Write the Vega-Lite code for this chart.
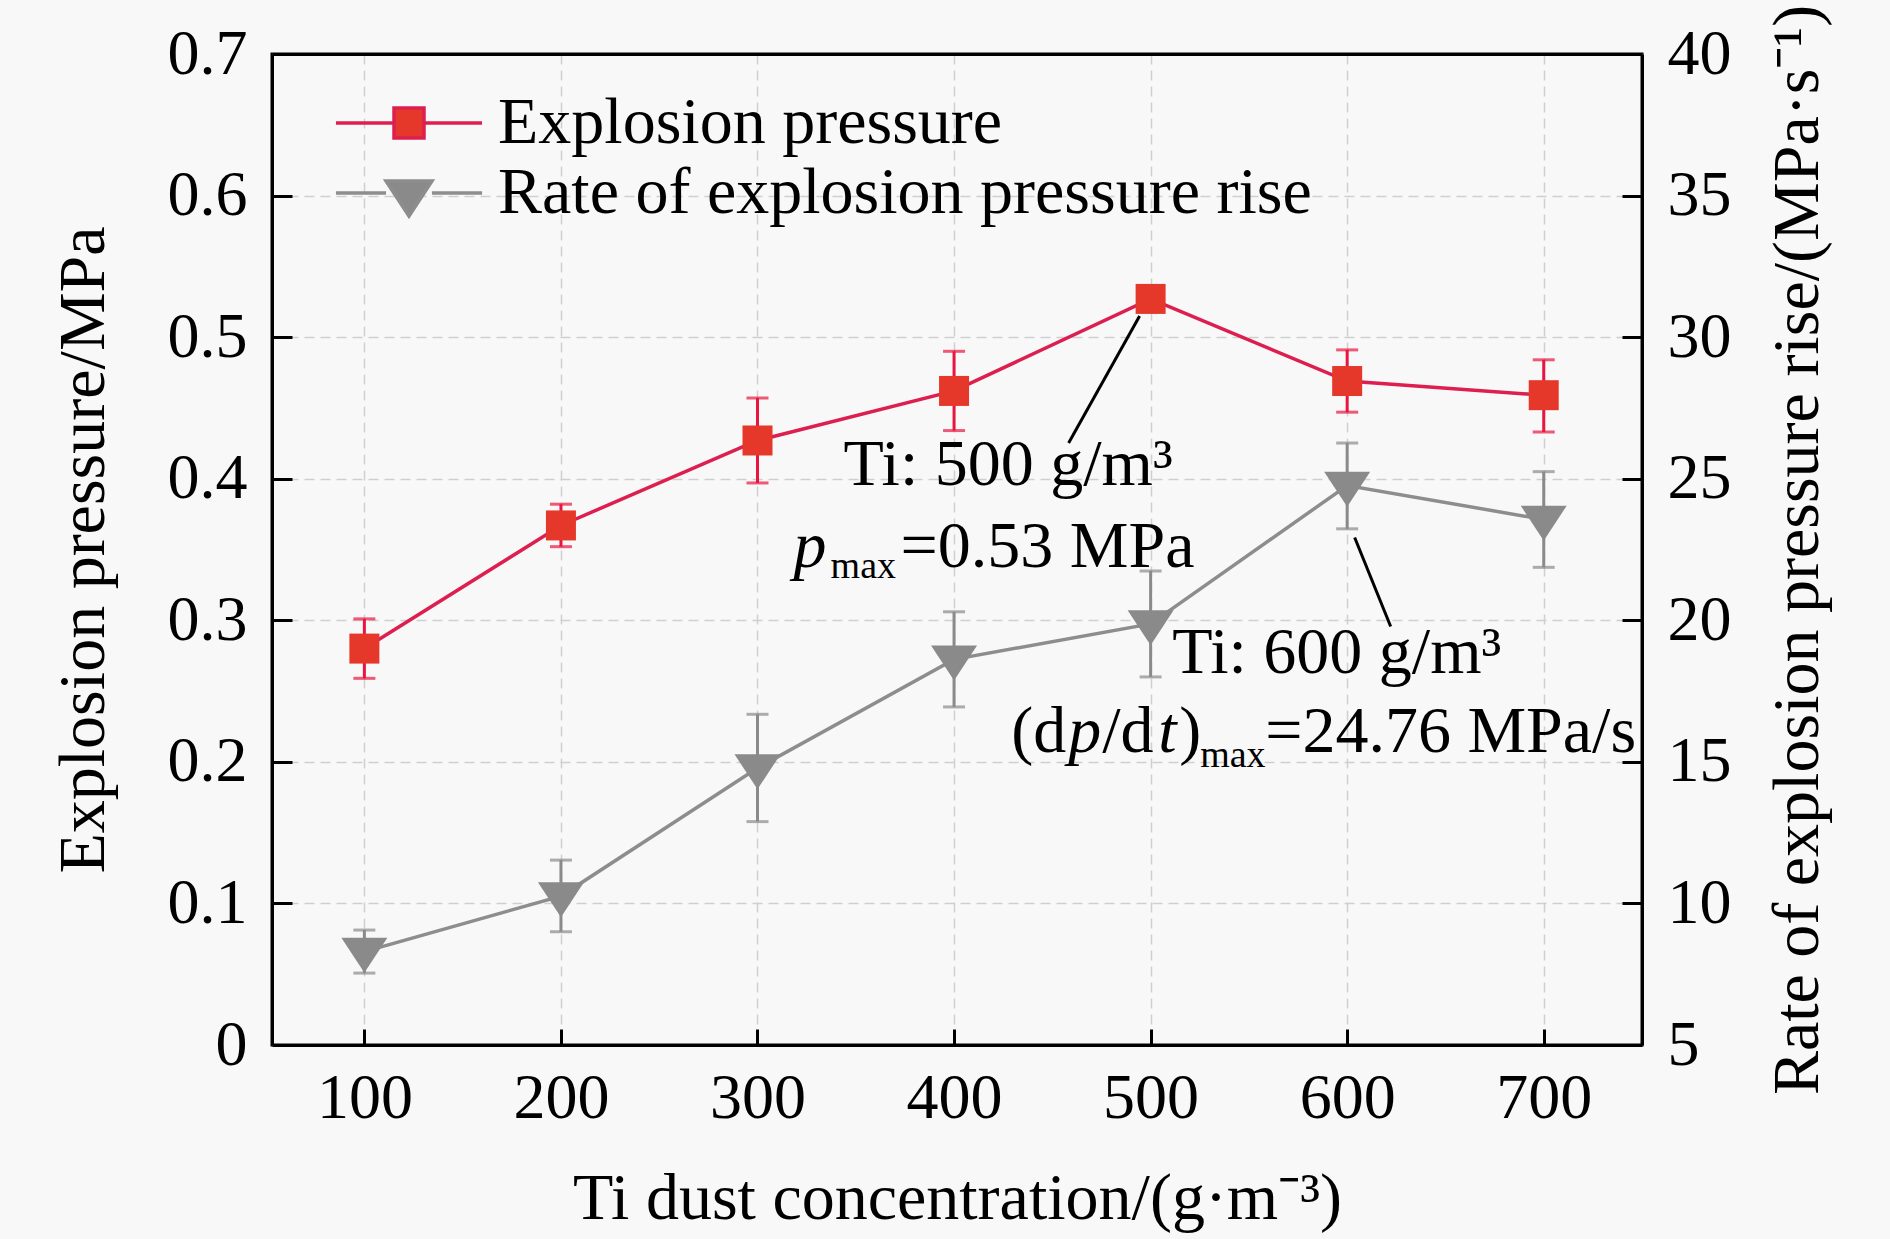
{
  "$schema": "https://vega.github.io/schema/vega-lite/v6.json",
  "width": 1370,
  "height": 991,
  "autosize": "none",
  "padding": {"left": 272, "top": 54, "right": 248, "bottom": 194},
  "background": "#f8f8f8",
  "config": {
    "font": "Liberation Serif",
    "view": {"stroke": "black", "strokeWidth": 3},
    "axis": {
      "labelFont": "Liberation Serif",
      "labelFontSize": 64,
      "labelColor": "black",
      "titleFont": "Liberation Serif",
      "titleFontSize": 66,
      "titleFontWeight": "normal",
      "titleColor": "black",
      "domainColor": "black",
      "domainWidth": 3,
      "tickColor": "black",
      "tickWidth": 3,
      "gridColor": "#cfcfcf",
      "gridWidth": 1.5,
      "gridDash": [10, 6]
    }
  },
  "data": {
    "values": [
      {"conc": 100, "series": "Explosion pressure", "value": 0.280, "lo": 0.259, "hi": 0.301},
      {"conc": 200, "series": "Explosion pressure", "value": 0.367, "lo": 0.352, "hi": 0.382},
      {"conc": 300, "series": "Explosion pressure", "value": 0.427, "lo": 0.397, "hi": 0.457},
      {"conc": 400, "series": "Explosion pressure", "value": 0.462, "lo": 0.434, "hi": 0.490},
      {"conc": 500, "series": "Explosion pressure", "value": 0.527, "lo": 0.527, "hi": 0.527},
      {"conc": 600, "series": "Explosion pressure", "value": 0.469, "lo": 0.447, "hi": 0.491},
      {"conc": 700, "series": "Explosion pressure", "value": 0.459, "lo": 0.433, "hi": 0.484},
      {"conc": 100, "series": "Rate of explosion pressure rise", "value": 8.30, "lo": 7.54, "hi": 9.06},
      {"conc": 200, "series": "Rate of explosion pressure rise", "value": 10.26, "lo": 9.00, "hi": 11.53},
      {"conc": 300, "series": "Rate of explosion pressure rise", "value": 14.78, "lo": 12.89, "hi": 16.68},
      {"conc": 400, "series": "Rate of explosion pressure rise", "value": 18.62, "lo": 16.94, "hi": 20.30},
      {"conc": 500, "series": "Rate of explosion pressure rise", "value": 19.87, "lo": 18.00, "hi": 21.74},
      {"conc": 600, "series": "Rate of explosion pressure rise", "value": 24.76, "lo": 23.23, "hi": 26.26},
      {"conc": 700, "series": "Rate of explosion pressure rise", "value": 23.56, "lo": 21.87, "hi": 25.25}
    ]
  },
  "encoding": {
    "x": {
      "field": "conc",
      "type": "quantitative",
      "scale": {"domain": [53, 750], "nice": false, "zero": false},
      "axis": null
    }
  },
  "layer": [
    {
      "transform": [{"filter": "datum.series == 'Explosion pressure'"}],
      "encoding": {
        "y": {
          "field": "value",
          "type": "quantitative",
          "scale": {"domain": [0, 0.7], "nice": false},
          "axis": null
        }
      },
      "layer": [
        {
          "mark": {"type": "errorbar", "ticks": {"size": 22, "thickness": 3, "color": "#e8153f"}, "rule": {"strokeWidth": 3, "color": "#e8153f"}},
          "encoding": {
            "x": {
              "field": "conc",
              "type": "quantitative",
              "axis": {"orient": "bottom", "values": [100, 200, 300, 400, 500, 600, 700], "offset": -16, "tickSize": 16, "domain": false, "labels": false, "grid": false, "title": null}
            },
            "y": {
              "field": "lo",
              "type": "quantitative",
              "axis": {"orient": "left", "values": [0.1, 0.2, 0.3, 0.4, 0.5, 0.6], "offset": -20, "tickSize": 20, "domain": false, "labels": false, "grid": false, "title": null}
            },
            "y2": {"field": "hi"}
          }
        },
        {
          "mark": {"type": "line", "color": "#dc1f4f", "strokeWidth": 3.5},
          "encoding": {
            "x": {
              "field": "conc",
              "type": "quantitative",
              "axis": {
                "orient": "bottom",
                "title": "Ti dust concentration/(g·m⁻³)",
                "values": [100, 200, 300, 400, 500, 600, 700],
                "ticks": false,
                "labelPadding": 21,
                "titlePadding": 36,
                "grid": true
              }
            },
            "y": {
              "field": "value",
              "type": "quantitative",
              "axis": {
                "orient": "left",
                "title": "Explosion pressure/MPa",
                "values": [0, 0.1, 0.2, 0.3, 0.4, 0.5, 0.6, 0.7],
                "labelExpr": "datum.value == 0 ? '0' : format(datum.value, '.1f')",
                "ticks": false,
                "labelPadding": 25,
                "titlePadding": 50,
                "grid": true
              }
            }
          }
        },
        {
          "mark": {"type": "point", "shape": "square", "filled": true, "size": 900, "opacity": 1},
          "encoding": {
            "x": {
              "field": "conc",
              "type": "quantitative",
              "axis": {"orient": "top", "domain": true, "ticks": false, "labels": false, "grid": false, "title": null, "zindex": 1}
            },
            "color": {
              "field": "series",
              "type": "nominal",
              "scale": {"domain": ["Explosion pressure", "Rate of explosion pressure rise"], "range": ["#e5382a", "#8a8a8a"]},
              "legend": {
                "orient": "none",
                "legendX": 104,
                "legendY": 36,
                "title": null,
                "padding": 0,
                "symbolSize": 900,
                "symbolStrokeWidth": 3,
                "symbolOpacity": 1,
                "labelFont": "Liberation Serif",
                "labelFontSize": 66,
                "labelColor": "black",
                "labelOffset": 56,
                "labelLimit": 1200,
                "rowPadding": 4,
                "encode": {
                  "symbols": {
                    "update": {
                      "shape": {"signal": "datum.value == 'Explosion pressure' ? 'M -4.87 0 H -1 M 1 0 H 4.87 M -1 -1 H 1 V 1 H -1 Z' : 'M -4.87 0 H -1.53 M 1.53 0 H 4.87 M -1.53 -0.8 H 1.53 L 0 1.53 Z'"},
                      "stroke": {"signal": "datum.value == 'Explosion pressure' ? '#dc1f4f' : '#8d8d8d'"},
                      "strokeWidth": {"value": 3.5}
                    }
                  }
                }
              }
            }
          }
        },
        {
          "transform": [{"filter": "datum.conc == 500"}],
          "layer": [
            {
              "mark": {"type": "rule", "color": "black", "strokeWidth": 3, "xOffset": -11, "yOffset": 17, "x2Offset": -82, "y2Offset": 144},
              "encoding": {"x2": {"field": "conc"}, "y2": {"field": "value"}}
            },
            {
              "mark": {"type": "text", "text": "Ti: 500 g/m³", "align": "left", "baseline": "alphabetic", "fontSize": 66, "dx": -307, "dy": 186, "color": "black"}
            },
            {
              "mark": {"type": "text", "text": "p", "fontStyle": "italic", "align": "left", "baseline": "alphabetic", "fontSize": 66, "dx": -357, "dy": 268, "color": "black"}
            },
            {
              "mark": {"type": "text", "text": "max", "align": "left", "baseline": "alphabetic", "fontSize": 38, "dx": -320, "dy": 279, "color": "black"}
            },
            {
              "mark": {"type": "text", "text": "=0.53 MPa", "align": "left", "baseline": "alphabetic", "fontSize": 66, "dx": -250, "dy": 268, "color": "black"}
            }
          ]
        }
      ],
      "resolve": {"axis": {"x": "independent", "y": "independent"}}
    },
    {
      "transform": [{"filter": "datum.series == 'Rate of explosion pressure rise'"}],
      "encoding": {
        "y": {
          "field": "value",
          "type": "quantitative",
          "scale": {"domain": [5, 40], "nice": false, "zero": false},
          "axis": null
        }
      },
      "layer": [
        {
          "mark": {"type": "errorbar", "ticks": {"size": 22, "thickness": 3, "color": "#8a8a8a"}, "rule": {"strokeWidth": 3, "color": "#8a8a8a"}},
          "encoding": {
            "y": {
              "field": "lo",
              "type": "quantitative",
              "axis": {"orient": "right", "values": [10, 15, 20, 25, 30, 35], "offset": -20, "tickSize": 20, "domain": false, "labels": false, "grid": false, "title": null}
            },
            "y2": {"field": "hi"}
          }
        },
        {
          "mark": {"type": "line", "color": "#8d8d8d", "strokeWidth": 3.5},
          "encoding": {
            "y": {
              "field": "value",
              "type": "quantitative",
              "axis": {
                "orient": "right",
                "title": "Rate of explosion pressure rise/(MPa·s⁻¹)",
                "values": [5, 10, 15, 20, 25, 30, 35, 40],
                "ticks": false,
                "labelPadding": 25,
                "titlePadding": 100,
                "titleAngle": 270,
                "grid": false
              }
            }
          }
        },
        {
          "mark": {"type": "point", "shape": "M -1 -0.6 L 1 -0.6 L 0 0.92 Z", "filled": true, "size": 2116, "opacity": 1},
          "encoding": {
            "color": {"field": "series", "type": "nominal"}
          }
        },
        {
          "transform": [{"filter": "datum.conc == 600"}],
          "layer": [
            {
              "mark": {"type": "rule", "color": "black", "strokeWidth": 3, "xOffset": 7.5, "yOffset": 52, "x2Offset": 43.5, "y2Offset": 141},
              "encoding": {"x2": {"field": "conc"}, "y2": {"field": "value"}}
            },
            {
              "mark": {"type": "text", "text": "Ti: 600 g/m³", "align": "left", "baseline": "alphabetic", "fontSize": 66, "dx": -175, "dy": 187, "color": "black"}
            },
            {
              "mark": {"type": "text", "text": "(d", "align": "left", "baseline": "alphabetic", "fontSize": 66, "dx": -336, "dy": 266, "color": "black"}
            },
            {
              "mark": {"type": "text", "text": "p", "fontStyle": "italic", "align": "left", "baseline": "alphabetic", "fontSize": 66, "dx": -279, "dy": 266, "color": "black"}
            },
            {
              "mark": {"type": "text", "text": "/d", "align": "left", "baseline": "alphabetic", "fontSize": 66, "dx": -245, "dy": 266, "color": "black"}
            },
            {
              "mark": {"type": "text", "text": "t", "fontStyle": "italic", "align": "left", "baseline": "alphabetic", "fontSize": 66, "dx": -189, "dy": 266, "color": "black"}
            },
            {
              "mark": {"type": "text", "text": ")", "align": "left", "baseline": "alphabetic", "fontSize": 66, "dx": -168, "dy": 266, "color": "black"}
            },
            {
              "mark": {"type": "text", "text": "max", "align": "left", "baseline": "alphabetic", "fontSize": 38, "dx": -147, "dy": 281, "color": "black"}
            },
            {
              "mark": {"type": "text", "text": "=24.76 MPa/s", "align": "left", "baseline": "alphabetic", "fontSize": 66, "dx": -82, "dy": 266, "color": "black"}
            }
          ]
        }
      ],
      "resolve": {"axis": {"y": "independent"}}
    }
  ],
  "resolve": {"scale": {"y": "independent"}, "axis": {"x": "independent"}}
}
